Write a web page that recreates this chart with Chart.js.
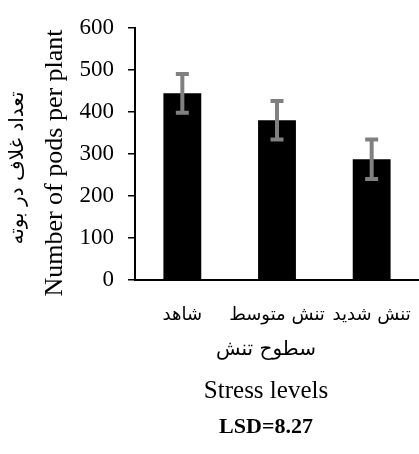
<!DOCTYPE html>
<html>
<head>
<meta charset="utf-8">
<script src="https://cdn.jsdelivr.net/npm/chart.js@4.4.0/dist/chart.umd.min.js"></script>
<style>
  html, body { margin: 0; padding: 0; background: #fff; }
  #wrap { width: 419px; height: 454px; }
</style>
</head>
<body>
<div id="wrap"><canvas id="chart"></canvas></div>
<script>
// data
const categories = ['شاهد', 'تنش متوسط', 'تنش شدید'];
const podsPerPlant = [444, 380, 287];
const errorValues = [46, 46, 47];
const yTicks = [0, 100, 200, 300, 400, 500, 600];

const yTitleFa = 'تعداد غلاف در بوته';
const yTitleEn = 'Number of pods per plant';
const xTitleFa = 'سطوح تنش';
const xTitleEn = 'Stress levels';
const lsdNote = 'LSD=8.27';

const serif = "'Liberation Serif', 'Times New Roman', serif";
const arabic = "'DejaVu Sans', sans-serif";

// grey error bars on top of the bars
const errorBars = {
    id: 'errorBars',
    afterDatasetsDraw(chart) {
        const ctx = chart.ctx;
        const y = chart.scales.y;
        const meta = chart.getDatasetMeta(0);
        ctx.save();
        ctx.strokeStyle = '#808080';
        ctx.lineWidth = 4;
        meta.data.forEach((bar, i) => {
            const top = y.getPixelForValue(podsPerPlant[i] + errorValues[i]);
            const bot = y.getPixelForValue(podsPerPlant[i] - errorValues[i]);
            ctx.beginPath();
            ctx.moveTo(bar.x, top);
            ctx.lineTo(bar.x, bot);
            ctx.moveTo(bar.x - 6.5, top);
            ctx.lineTo(bar.x + 6.5, top);
            ctx.moveTo(bar.x - 6.5, bot);
            ctx.lineTo(bar.x + 6.5, bot);
            ctx.stroke();
        });
        ctx.restore();
    }
};

// axis titles in two languages + LSD note
const extraText = {
    id: 'extraText',
    afterDraw(chart) {
        const ctx = chart.ctx;
        const a = chart.chartArea;
        ctx.save();
        ctx.fillStyle = '#000';
        ctx.textAlign = 'center';
        ctx.textBaseline = 'middle';

        ctx.save();
        ctx.translate(a.left - 80, a.bottom - 117);
        ctx.rotate(-Math.PI / 2);
        ctx.font = '26px ' + serif;
        ctx.fillText(yTitleEn, 0, 0);
        ctx.restore();

        ctx.save();
        ctx.translate(a.left - 117, a.bottom - 112);
        ctx.rotate(-Math.PI / 2);
        ctx.font = '20px ' + arabic;
        ctx.fillText(yTitleFa, 0, 0);
        ctx.restore();

        const cx = a.left + 131;
        ctx.font = '20px ' + arabic;
        ctx.fillText(xTitleFa, cx, a.bottom + 70);
        ctx.font = '25px ' + serif;
        ctx.fillText(xTitleEn, cx, a.bottom + 111);
        ctx.font = 'bold 22px ' + serif;
        ctx.fillText(lsdNote, cx, a.bottom + 147);
        ctx.restore();
    }
};

new Chart(document.getElementById('chart'), {
    type: 'bar',
    data: {
        labels: categories,
        datasets: [{
            data: podsPerPlant,
            backgroundColor: '#000',
            barPercentage: 0.4,
            categoryPercentage: 1
        }]
    },
    options: {
        responsive: true,
        maintainAspectRatio: false,
        animation: false,
        layout: { padding: { top: 26, right: 0, left: 0, bottom: 0 } },
        plugins: {
            legend: { display: false },
            tooltip: { enabled: false }
        },
        scales: {
            x: {
                grid: { display: false },
                border: { color: '#000', width: 2 },
                ticks: {
                    color: '#000', padding: 17, autoSkip: false, maxRotation: 0, minRotation: 0,
                    font: { family: arabic, size: 18 }
                },
                afterFit(s) {
                    s.height = 174;
                    s.paddingLeft = 0;
                    s.paddingRight = 0;
                }
            },
            y: {
                min: 0,
                max: 600,
                afterBuildTicks(s) { s.ticks = yTicks.map(v => ({ value: v })); },
                ticks: { color: '#000', padding: 14, font: { family: serif, size: 23 } },
                grid: { drawOnChartArea: false, drawTicks: true, tickLength: 7, color: '#000', lineWidth: 1.5 },
                border: { color: '#000', width: 2 },
                afterFit(s) { s.width = 135; }
            }
        }
    },
    plugins: [errorBars, extraText]
});
</script>
</body>
</html>
